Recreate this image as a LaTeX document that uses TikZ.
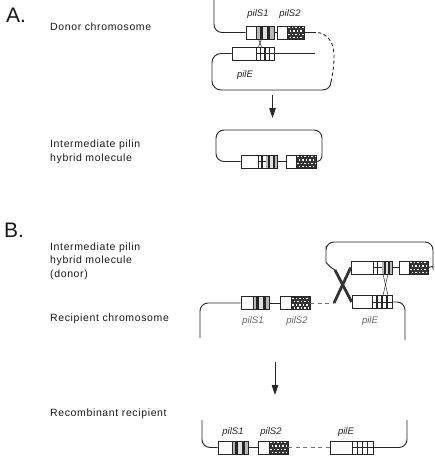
\documentclass[tikz,border=0pt]{standalone}
\usepackage{fontspec}
\setmainfont{Liberation Sans}
\newfontfamily\lblf{Liberation Sans}[LetterSpace=6]
\usetikzlibrary{arrows.meta,calc}

\tikzset{
  chrom/.style={line width=0.9pt, draw=black!85},
  rdash/.style={line width=0.9pt, draw=black!55, dash pattern=on 4pt off 3.5pt},
  gbox/.style={draw=black!85, line width=0.6pt, rectangle, inner sep=0pt, minimum height=13pt},
  lbl/.style={font=\lblf\fontsize{10.5}{12}\selectfont, text=black!90, anchor=base west, inner sep=0pt},
  big/.style={font=\fontsize{21}{24}\selectfont, text=black!90, anchor=west, inner sep=0pt},
  glbl/.style={font=\fontsize{9.5}{10}\selectfont\itshape, text=black!85, inner sep=0pt},
  glblg/.style={glbl, text=black!60},
  xover/.style={line width=2.8pt, draw=black!80},
  xlink/.style={line width=0.5pt, draw=black!85},
  arr/.style={line width=0.9pt, draw=black!85, -{Triangle[width=6.5pt,length=10pt]}}
}

\newcommand{\StripeFill}[3]{%
  \pgfmathsetmacro{\mysw}{(#2-#1)/5}%
  \fill[gray!55] (#1,#3-6.5) rectangle (#2,#3+6.5);
  \fill[black!85] ({#1+\mysw},#3-6.5) rectangle ({#1+2*\mysw},#3+6.5);
  \fill[gray!25] ({#1+2*\mysw},#3-6.5) rectangle ({#1+3*\mysw},#3+6.5);
  \fill[black!85] ({#1+3*\mysw},#3-6.5) rectangle ({#1+4*\mysw},#3+6.5);
}
\newcommand{\DotFill}[3]{%
  \fill[black!80] (#1,#3-6.5) rectangle (#2,#3+6.5);
  \begin{scope}
    \clip (#1,#3-6.5) rectangle (#2,#3+6.5);
    \foreach \mydx in {1,4.5,...,22}{
      \foreach \mydy/\myoff in {-5.5/0,-2.2/1.8,1.1/0,4.4/1.8}{
        \fill[white] ({#1+\mydx+\myoff},{#3+\mydy}) rectangle ++(1.5,1.4);
      }}
  \end{scope}
}
\newcommand{\GridFill}[4]{%
  \fill[white] (#1,#3-6.5) rectangle (#2,#3+6.5);
  \pgfmathsetmacro{\mygw}{(#2-#1)/#4}%
  \pgfmathtruncatemacro{\mygn}{#4-1}%
  \foreach \myk in {1,...,\mygn}{\draw[black!85, line width=1.2pt] ({#1+\myk*\mygw},#3-6.5) -- ++(0,13);}
  \draw[black!85, line width=0.7pt] (#1,#3) -- (#2,#3);
}
\newcommand{\GBox}[5]{%
  \draw[black!85, line width=0.6pt] (#3,#5-6.5) -- (#3,#5+6.5);
  \node[gbox, minimum width={#4-#2}] (#1) at ({(#2+#4)/2},#5) {};
}
\newcommand{\GeneSone}[5]{\StripeFill{#3}{#4}{#5}\GBox{#1}{#2}{#3}{#4}{#5}}
\newcommand{\GeneStwo}[5]{\DotFill{#3}{#4}{#5}\GBox{#1}{#2}{#3}{#4}{#5}}
\newcommand{\GeneE}[5]{\GridFill{#3}{#4}{#5}{4}\GBox{#1}{#2}{#3}{#4}{#5}}
\newcommand{\GeneH}[6]{\GridFill{#3}{#4}{#6}{2}\StripeFill{#4}{#5}{#6}\GBox{#1}{#2}{#3}{#5}{#6}}

\begin{document}
\begin{tikzpicture}[x=1pt,y=-1pt]
\useasboundingbox (0,0) rectangle (435,456);

% ---------- texts ----------
\node[big] (labA) at (6,15.5) {A.};
\node[big] (labB) at (4,230.5) {B.};
\node[lbl] (tA1) at (50,30) {Donor chromosome};
\node[lbl] (tA2) at (50,147) {Intermediate pilin};
\node[lbl] (tA3) at (50,161.5) {hybrid molecule};
\node[lbl] (tB1) at (50,250) {Intermediate pilin};
\node[lbl] (tB2) at (50,263.5) {hybrid molecule};
\node[lbl] (tB3) at (50,277) {(donor)};
\node[lbl] (tB4) at (50,321) {Recipient chromosome};
\node[lbl] (tB5) at (50,416) {Recombinant recipient};

% ---------- A: donor chromosome ----------
\GeneSone{s1A}{246}{256}{274}{32.5}
\GeneStwo{s2A}{277}{287}{304}{32.5}
\GeneE{eA}{232}{256}{274}{53.5}
\coordinate (aTop) at (214,0);
\coordinate (aS2end) at (316,32.5);
\coordinate (aEend) at (315,53.5);
\coordinate (aB0) at (322,90);
\coordinate (aBR) at (331,82);
\draw[chrom, rounded corners=8] (aTop) |- (s1A.west);
\draw[chrom] (s1A.east) -- (s2A.west);
\draw[chrom] (s2A.east) -- (aS2end);
\draw[chrom] (eA.east) -- (aEend);
\draw[chrom, rounded corners=9] (eA.west) -| (212,90) -- (aB0);
\draw[chrom] (aB0) .. controls (327,90) and (331,87) .. (aBR);
\draw[chrom, dash pattern=on 3.5pt off 2.5pt] (aBR) .. controls (334,68) and (336,50) .. (331,42) .. controls (327,35) and (322,32.5) .. (aS2end);
\draw[xlink] ($(s1A.south)+(-1.5,0)$) -- ($(eA.north -| s1A.south)+(1.5,0)$);
\draw[xlink] ($(s1A.south)+(1.5,0)$) -- ($(eA.north -| s1A.south)+(-1.5,0)$);
\node[glbl] (lS1A) at (258,14) {pilS1};
\node[glbl] (lS2A) at (290,14) {pilS2};
\node[glbl] (lEA) at (245,75) {pilE};

% arrow A
\coordinate (arA1) at (272.5,95);
\coordinate (arA2) at (272.5,118);
\draw[arr] (arA1) -- (arA2);

% ---------- A: intermediate ----------
\GeneH{hA1}{241}{258}{266}{277}{161.5}
\GeneStwo{hA2}{286}{296}{316}{161.5}
\coordinate (hR) at (322,155);
\draw[chrom] (hA1.east) -- (hA2.west);
\draw[chrom, rounded corners=8] (hA1.west) -| (216,130) -| (hR);
\draw[chrom] (hA2.east) .. controls (320,161.5) and (322,159) .. (hR);

% ---------- B: recipient + donor ----------
\GeneSone{s1B}{241}{253}{269}{303}
\GeneStwo{s2B}{280}{291}{310}{303}
\GeneE{eB}{352}{372}{392}{302}
\GeneH{uB1}{351}{373}{382}{392}{267.5}
\GeneStwo{uB2}{399}{409}{428}{267.5}
\coordinate (rL) at (200,338);
\coordinate (rR) at (405,340);
\coordinate (xBL) at (334,303);
\coordinate (xTL) at (335,270);
\draw[chrom, rounded corners=8] (s1B.west) -| (rL);
\draw[chrom] (s1B.east) -- (s2B.west);
\draw[rdash] (s2B.east) -- (xBL);
\draw[chrom, rounded corners=8] (eB.east) -| (rR);
\draw[chrom] (uB1.east) -- (uB2.west);
\draw[chrom, rounded corners=8] (xTL) .. controls (328,266) and (326,262) .. (326,254) -- (326,242) -- (433,242) -- (433,260) .. controls (433,265) and (431,267.5) .. (uB2.east);
\draw[xover] (xBL) -- (uB1.west);
\draw[xover] (xTL) -- (eB.west);
\draw[xlink] ($(uB1.south)+(11.5,0)$) -- ($(eB.north)+(16,0)$);
\draw[xlink] ($(uB1.south)+(16.5,0)$) -- ($(eB.north)+(11,0)$);
\node[glblg] (lS1B) at (253,321) {pilS1};
\node[glblg] (lS2B) at (297,321) {pilS2};
\node[glblg] (lEB) at (370,321) {pilE};

% arrow B
\coordinate (arB1) at (275,362);
\coordinate (arB2) at (275,395);
\draw[arr] (arB1) -- (arB2);

% ---------- B: recombinant ----------
\GeneSone{r1}{218}{232}{248}{447.5}
\GeneStwo{r2}{258}{269}{288}{447.5}
\GeneE{r3}{330}{352}{373}{447.5}
\coordinate (cL) at (202,420);
\coordinate (cR) at (407,420);
\draw[chrom, rounded corners=8] (r1.west) -| (cL);
\draw[chrom] (r1.east) -- (r2.west);
\draw[rdash] (r2.east) -- (r3.west);
\draw[chrom, rounded corners=8] (r3.east) -| (cR);
\node[glbl] (lS1C) at (233,432) {pilS1};
\node[glbl] (lS2C) at (271,432) {pilS2};
\node[glbl] (lEC) at (346,432) {pilE};
\end{tikzpicture}
\end{document}
